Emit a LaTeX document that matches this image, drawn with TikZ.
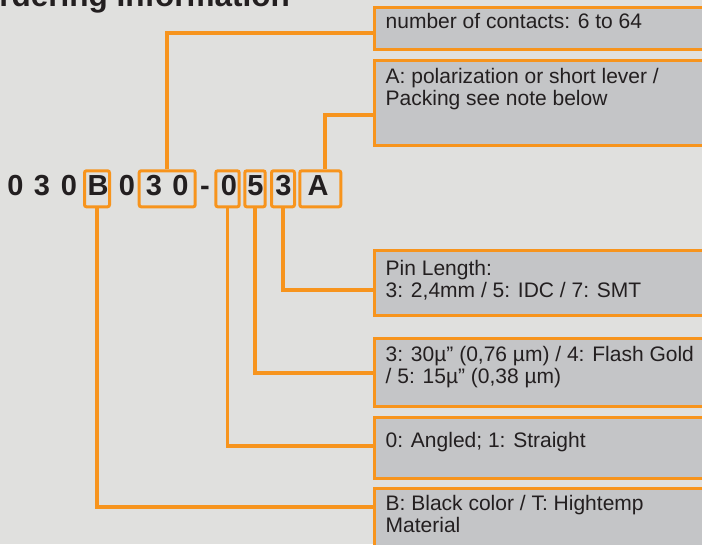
\documentclass[tikz,border=0pt]{standalone}
\usepackage{fontspec}
\setmainfont{Liberation Sans}
\definecolor{bggray}{RGB}{224,224,222}
\definecolor{boxgray}{RGB}{196,197,199}
\definecolor{orng}{RGB}{247,148,29}
\definecolor{ink}{RGB}{35,31,32}
\begin{document}
\begin{tikzpicture}[x=1pt,y=-1pt,
	keychar/.style={anchor=base,inner sep=0pt,text=ink,font=\fontsize{29}{29}\selectfont\bfseries},
	keybox/.style={draw=orng,line width=3pt,rounded corners=2pt,minimum height=36pt,inner sep=0pt},
	descbox/.style={draw=orng,fill=boxgray,line width=3pt,anchor=north west,minimum width=340pt,inner sep=0pt},
	desctext/.style={anchor=base west,inner sep=0pt,align=left,text=ink,font=\fontsize{21}{22}\selectfont},
	link/.style={draw=orng,line width=3.5pt}]
	\useasboundingbox (0,0) rectangle (702,544);
	\clip (0,0) rectangle (702,544);
	\fill[bggray] (0,0) rectangle (702,544);
	% title, cut by the top edge
	\node[anchor=base east,inner sep=0pt,text=ink,font=\fontsize{31.5}{31.5}\selectfont\bfseries] (title) at (290,6) {Ordering Information};
	% the order key
	\foreach \ch/\xx [count=\i] in {0/15.5,3/42,0/69,B/98,0/127,3/154,0/180.5,-/205,0/229,5/255.5,3/283.5,A/318}
		\node[keychar] (c\i) at (\xx,195) {\ch};
	\node[keybox,minimum width=25pt] (kB) at (97,188.8) {};
	\node[keybox,minimum width=56pt] (kNum) at (167.2,188.8) {};
	\node[keybox,minimum width=23.4pt] (kAng) at (227.5,188.8) {};
	\node[keybox,minimum width=20.4pt] (kPlat) at (255,188.8) {};
	\node[keybox,minimum width=23pt] (kPin) at (283,188.8) {};
	\node[keybox,minimum width=41pt] (kPol) at (320.3,188.8) {};
	% description boxes
	\node[descbox,minimum height=42pt] (dNum) at (373,5.5) {};
	\node[descbox,minimum height=85pt] (dPol) at (373,59) {};
	\node[descbox,minimum height=65pt] (dPin) at (373,249) {};
	\node[descbox,minimum height=68.3pt] (dPlat) at (373,336.7) {};
	\node[descbox,minimum height=61pt] (dAng) at (373,415.5) {};
	\node[descbox,minimum height=70pt] (dMat) at (373,486.7) {};
	% texts (base = last line)
	\node[desctext] (tNum) at (385.5,28) {number of contacts: 6 to 64};
	\node[desctext] (tPol) at (385.5,105) {A: polarization or short lever /\\Packing see note below};
	\node[desctext] (tPin) at (385.5,297) {Pin Length:\\3: 2,4mm / 5: IDC / 7: SMT};
	\node[desctext] (tPlat) at (385.5,383) {3: 30µ” (0,76 µm) / 4: Flash Gold\\/ 5: 15µ” (0,38 µm)};
	\node[desctext] (tAng) at (385.5,447) {0: Angled; 1: Straight};
	\node[desctext] (tMat) at (385.5,532) {B: Black color / T: Hightemp\\Material};
	% connectors
	\draw[link] (kNum.north) |- ([yshift=-4.8pt]dNum.west);
	\draw[link] ([xshift=4.5pt]kPol.north) |- ([yshift=-12.2pt]dPol.west);
	\draw[link] (kPin.south) |- ([yshift=-7.2pt]dPin.west);
	\draw[link] (kPlat.south) |- ([yshift=-0.5pt]dPlat.west);
	\draw[link] (kAng.south) |- ([yshift=1.5pt]dAng.west);
	\draw[link] (kB.south) |- ([yshift=16.4pt]dMat.west);
\end{tikzpicture}
\end{document}
